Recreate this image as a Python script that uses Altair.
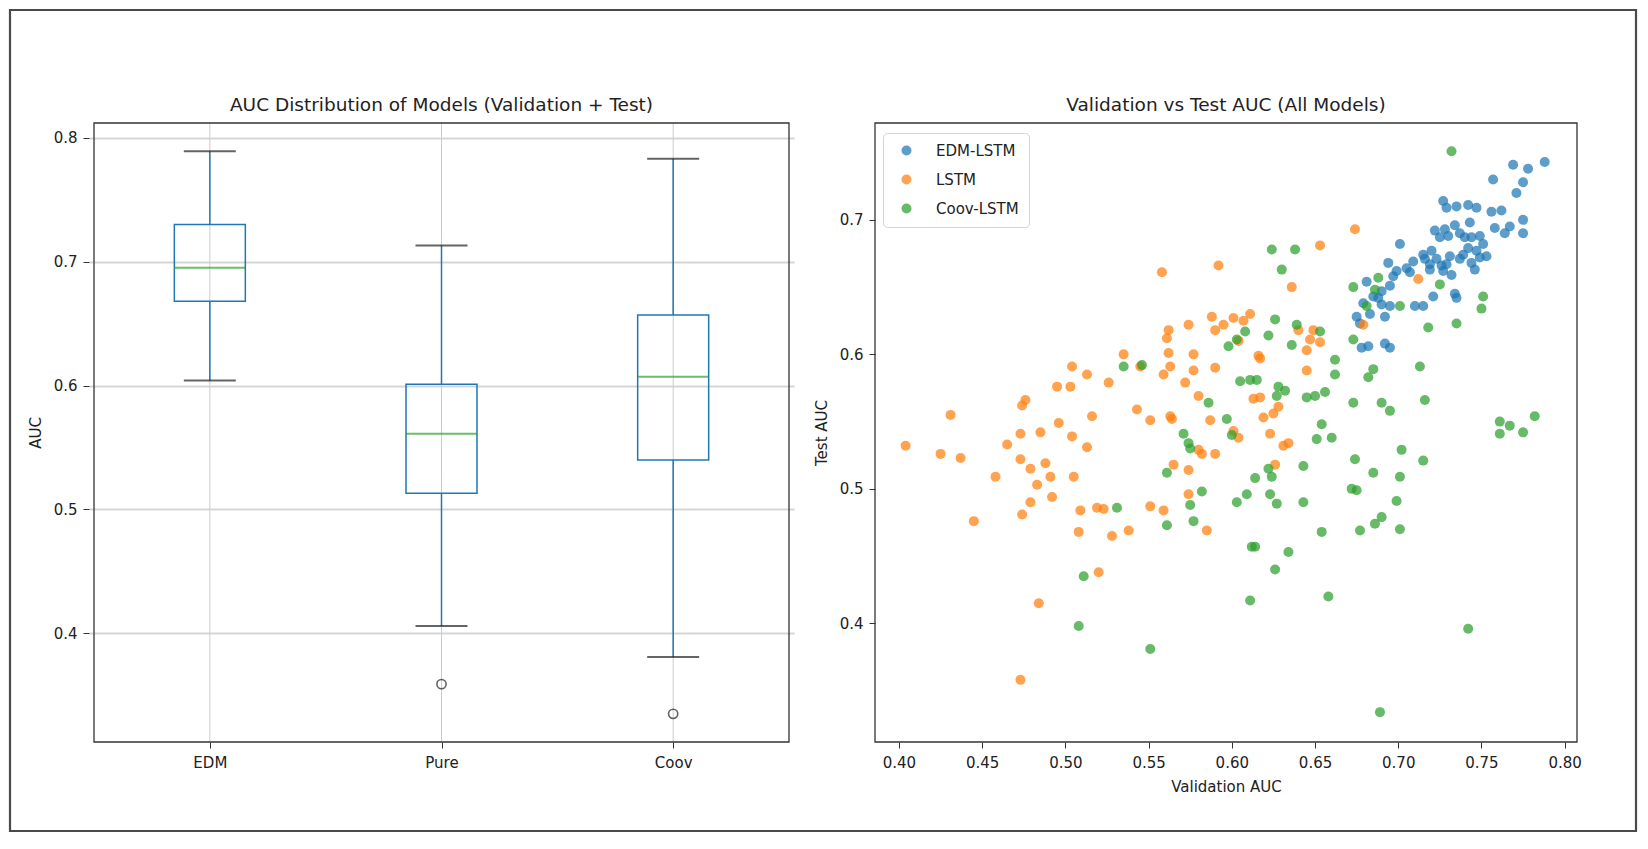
import altair as alt
import pandas as pd

# ---------------- Box plot summary ----------------
models = ["EDM", "Pure", "Coov"]
whisker_low = [0.604, 0.406, 0.381]
q1 = [0.668, 0.513, 0.540]
median = [0.695, 0.561, 0.607]
q3 = [0.730, 0.601, 0.657]
whisker_high = [0.789, 0.713, 0.783]
outlier_model = ["Pure", "Coov"]
outlier_value = [0.359, 0.335]
box_ylim = [0.3123, 0.8119]
box_yticks = [0.4, 0.5, 0.6, 0.7, 0.8]

# ---------------- Scatter values ----------------
edm_val = [0.788, 0.769, 0.778, 0.757, 0.775, 0.771, 0.727, 0.729, 0.735, 0.742,
           0.747, 0.756, 0.762, 0.775, 0.758, 0.764, 0.767, 0.775, 0.743, 0.722,
           0.728, 0.734, 0.737, 0.740, 0.744, 0.749, 0.751, 0.725, 0.730, 0.701,
           0.753, 0.747, 0.742, 0.737, 0.744, 0.746, 0.731, 0.729, 0.720, 0.716,
           0.723, 0.719, 0.727, 0.732, 0.709, 0.705, 0.694, 0.707, 0.697, 0.681,
           0.695, 0.690, 0.721, 0.734, 0.735, 0.685, 0.679, 0.690, 0.695, 0.710,
           0.715, 0.675, 0.677, 0.683, 0.692, 0.678, 0.682, 0.692, 0.695, 0.719,
           0.715, 0.726, 0.739, 0.749, 0.699, 0.688]
edm_test = [0.743, 0.741, 0.738, 0.730, 0.728, 0.720, 0.714, 0.709, 0.710, 0.711,
            0.709, 0.706, 0.707, 0.700, 0.694, 0.690, 0.695, 0.690, 0.698, 0.692,
            0.693, 0.696, 0.690, 0.687, 0.687, 0.688, 0.682, 0.687, 0.688, 0.682,
            0.673, 0.677, 0.679, 0.671, 0.668, 0.663, 0.673, 0.667, 0.677, 0.671,
            0.671, 0.667, 0.662, 0.659, 0.669, 0.664, 0.668, 0.661, 0.658, 0.654,
            0.651, 0.647, 0.643, 0.645, 0.642, 0.643, 0.638, 0.637, 0.636, 0.636,
            0.636, 0.628, 0.623, 0.630, 0.628, 0.605, 0.606, 0.608, 0.605, 0.663,
            0.674, 0.666, 0.674, 0.672, 0.662, 0.642]

lstm_val = [0.674, 0.653, 0.636, 0.712, 0.679, 0.611, 0.607, 0.604, 0.640, 0.649,
            0.647, 0.653, 0.645, 0.616, 0.617, 0.645, 0.613, 0.617, 0.628, 0.625,
            0.619, 0.623, 0.631, 0.634, 0.626, 0.604, 0.558, 0.592, 0.588, 0.601,
            0.574, 0.595, 0.590, 0.562, 0.561, 0.562, 0.577, 0.535, 0.563, 0.559,
            0.577, 0.590, 0.545, 0.504, 0.513, 0.526, 0.495, 0.503, 0.572, 0.580,
            0.476, 0.474, 0.431, 0.543, 0.551, 0.563, 0.564, 0.587, 0.601, 0.496,
            0.516, 0.485, 0.473, 0.504, 0.465, 0.513, 0.404, 0.425, 0.437, 0.473,
            0.488, 0.479, 0.491, 0.505, 0.458, 0.483, 0.580, 0.582, 0.590, 0.565,
            0.574, 0.479, 0.492, 0.474, 0.445, 0.509, 0.519, 0.523, 0.508, 0.528,
            0.538, 0.551, 0.559, 0.574, 0.585, 0.520, 0.484, 0.473]
lstm_test = [0.693, 0.681, 0.650, 0.656, 0.622, 0.630, 0.625, 0.610, 0.618, 0.618,
             0.611, 0.609, 0.603, 0.599, 0.597, 0.588, 0.567, 0.568, 0.561, 0.556,
             0.553, 0.541, 0.532, 0.534, 0.518, 0.538, 0.661, 0.666, 0.628, 0.627,
             0.622, 0.622, 0.618, 0.618, 0.612, 0.601, 0.600, 0.600, 0.591, 0.585,
             0.588, 0.590, 0.591, 0.591, 0.585, 0.579, 0.576, 0.576, 0.579, 0.569,
             0.566, 0.562, 0.555, 0.559, 0.551, 0.554, 0.552, 0.551, 0.543, 0.549,
             0.554, 0.542, 0.541, 0.539, 0.533, 0.531, 0.532, 0.526, 0.523, 0.522,
             0.519, 0.515, 0.509, 0.509, 0.509, 0.503, 0.529, 0.526, 0.526, 0.518,
             0.514, 0.490, 0.494, 0.481, 0.476, 0.484, 0.486, 0.485, 0.468, 0.465,
             0.469, 0.487, 0.484, 0.496, 0.469, 0.438, 0.415, 0.358]

coov_val = [0.732, 0.624, 0.638, 0.630, 0.673, 0.688, 0.686, 0.681, 0.701, 0.725,
            0.751, 0.750, 0.718, 0.735, 0.626, 0.639, 0.622, 0.636, 0.653, 0.608,
            0.603, 0.673, 0.662, 0.662, 0.685, 0.682, 0.713, 0.605, 0.611, 0.615,
            0.628, 0.632, 0.627, 0.645, 0.650, 0.656, 0.673, 0.690, 0.695, 0.716,
            0.654, 0.761, 0.767, 0.782, 0.651, 0.660, 0.761, 0.775, 0.702, 0.674,
            0.715, 0.643, 0.622, 0.624, 0.614, 0.685, 0.701, 0.609, 0.603, 0.623,
            0.627, 0.643, 0.672, 0.675, 0.699, 0.690, 0.686, 0.677, 0.701, 0.654,
            0.612, 0.614, 0.634, 0.626, 0.611, 0.658, 0.742, 0.689, 0.535, 0.546,
            0.598, 0.586, 0.597, 0.600, 0.571, 0.574, 0.575, 0.561, 0.531, 0.575,
            0.582, 0.561, 0.577, 0.511, 0.508, 0.551]
coov_test = [0.751, 0.678, 0.678, 0.663, 0.650, 0.657, 0.648, 0.636, 0.636, 0.652,
             0.643, 0.634, 0.620, 0.623, 0.626, 0.622, 0.614, 0.607, 0.617, 0.617,
             0.611, 0.611, 0.596, 0.585, 0.589, 0.583, 0.591, 0.580, 0.581, 0.581,
             0.576, 0.573, 0.569, 0.568, 0.569, 0.572, 0.564, 0.564, 0.558, 0.566,
             0.548, 0.550, 0.547, 0.554, 0.537, 0.538, 0.541, 0.542, 0.529, 0.522,
             0.521, 0.517, 0.515, 0.509, 0.508, 0.512, 0.509, 0.496, 0.490, 0.496,
             0.489, 0.490, 0.500, 0.499, 0.491, 0.479, 0.474, 0.469, 0.470, 0.468,
             0.457, 0.457, 0.453, 0.440, 0.417, 0.420, 0.396, 0.334, 0.591, 0.592,
             0.606, 0.564, 0.552, 0.540, 0.541, 0.534, 0.530, 0.512, 0.486, 0.488,
             0.498, 0.473, 0.476, 0.435, 0.398, 0.381]

series_names = ["EDM-LSTM", "LSTM", "Coov-LSTM"]
series_colors = ["#1f77b4", "#ff7f0e", "#2ca02c"]
sc_xlim = [0.3856, 0.8074]
sc_ylim = [0.3118, 0.772]
sc_xticks = [0.40, 0.45, 0.50, 0.55, 0.60, 0.65, 0.70, 0.75, 0.80]
sc_yticks = [0.4, 0.5, 0.6, 0.7]

titles = ["AUC Distribution of Models (Validation + Test)", "Validation vs Test AUC (All Models)"]

# ---------------- Layout (pixels inside the framed view) ----------------
W, H = 1626, 821
TOP, BOTTOM = 113, 732
L_X0, L_X1 = 79, 784
R_X0, R_X1 = 865, 1567
FONT = "DejaVu Sans"
TXT = "#222222"

# ---------------- Tables ----------------
box_df = pd.DataFrame({"model": models, "pos": list(range(1, len(models) + 1)),
                       "lo": whisker_low, "q1": q1, "med": median, "q3": q3, "hi": whisker_high})
box_df["ylo"] = box_ylim[0]
box_df["yhi"] = box_ylim[1]
out_df = pd.DataFrame({"model": outlier_model, "v": outlier_value})
out_df["pos"] = out_df["model"].map({m: i + 1 for i, m in enumerate(models)})
box_frame = pd.DataFrame({"x0": [0.5], "x1": [len(models) + 0.5], "y0": [box_ylim[0]], "y1": [box_ylim[1]]})

sc_df = pd.concat([
    pd.DataFrame({"model": series_names[0], "val": edm_val, "test": edm_test}),
    pd.DataFrame({"model": series_names[1], "val": lstm_val, "test": lstm_test}),
    pd.DataFrame({"model": series_names[2], "val": coov_val, "test": coov_test}),
], ignore_index=True)
sc_frame = pd.DataFrame({"x0": [sc_xlim[0]], "x1": [sc_xlim[1]], "y0": [sc_ylim[0]], "y1": [sc_ylim[1]]})

label_expr = "[" + ",".join(f"'{m}'" for m in models) + "][round(datum.value)-1]"

box_xscale = alt.Scale(domain=[0.5, len(models) + 0.5], range=[L_X0, L_X1], nice=False, zero=False)
box_yscale = alt.Scale(domain=box_ylim, range=[BOTTOM, TOP], nice=False, zero=False)
box_xaxis = alt.Axis(orient="bottom", offset=-(H - BOTTOM), values=list(range(1, len(models) + 1)),
                     labelExpr=label_expr, grid=False,
                     domain=False, tickColor="#333333", tickSize=6, labelPadding=7,
                     labelFontSize=15, labelColor=TXT, labelFont=FONT, title=None)
box_yaxis = alt.Axis(orient="left", offset=-L_X0, values=box_yticks, format=".1f", grid=True,
                     gridColor="#d6d6d6", gridWidth=2, domain=False, tickColor="#333333",
                     tickSize=6, labelPadding=6, labelFontSize=15, labelColor=TXT, labelFont=FONT,
                     title="AUC", titleFontSize=15, titleFontWeight="normal", titleColor=TXT,
                     titleFont=FONT, titlePadding=10)


def bx(field):
    return alt.X(f"{field}:Q", scale=box_xscale, axis=box_xaxis)


def by(field):
    return alt.Y(f"{field}:Q", scale=box_yscale, axis=box_yaxis)


BLUE = "#1f77b4"
vgrid = alt.Chart(box_df).mark_rule(color="#cccccc", strokeWidth=1).encode(x=bx("pos"), y=by("ylo"), y2="yhi")
whisk_up = alt.Chart(box_df).mark_rule(color=BLUE, strokeWidth=1.5).encode(x=bx("pos"), y=by("q3"), y2="hi")
whisk_dn = alt.Chart(box_df).mark_rule(color=BLUE, strokeWidth=1.5).encode(x=bx("pos"), y=by("lo"), y2="q1")
boxes = alt.Chart(box_df).mark_bar(size=71, fill="white", fillOpacity=0, stroke=BLUE, strokeWidth=1.5).encode(
    x=bx("pos"), y=by("q1"), y2="q3")
med_tick = alt.Chart(box_df).mark_tick(orient="horizontal", size=71, thickness=2, color="#2ca02c").encode(
    x=bx("pos"), y=by("med"))
cap_hi = alt.Chart(box_df).mark_tick(orient="horizontal", size=52, thickness=2, color="#222222").encode(
    x=bx("pos"), y=by("hi"))
cap_lo = alt.Chart(box_df).mark_tick(orient="horizontal", size=52, thickness=2, color="#222222").encode(
    x=bx("pos"), y=by("lo"))
outliers = alt.Chart(out_df).mark_point(shape="circle", filled=False, color="#222222", size=85,
                                        strokeWidth=1.6).encode(x=bx("pos"), y=by("v"))
box_border = alt.Chart(box_frame).mark_rect(fillOpacity=0, stroke="#333333", strokeWidth=1.3).encode(
    x=bx("x0"), x2="x1", y=by("y0"), y2="y1")

box_group = alt.layer(vgrid, whisk_up, whisk_dn, boxes, med_tick, cap_hi, cap_lo, outliers, box_border)

sc_xscale = alt.Scale(domain=sc_xlim, range=[R_X0, R_X1], nice=False, zero=False)
sc_yscale = alt.Scale(domain=sc_ylim, range=[BOTTOM, TOP], nice=False, zero=False)
sc_xaxis = alt.Axis(orient="bottom", offset=-(H - BOTTOM), values=sc_xticks, format=".2f", grid=False,
                    domain=False, tickColor="#333333", tickSize=6, labelPadding=7, labelFontSize=15,
                    labelColor=TXT, labelFont=FONT, title="Validation AUC", titleFontSize=15,
                    titleFontWeight="normal", titleColor=TXT, titleFont=FONT, titlePadding=9)
sc_yaxis = alt.Axis(orient="left", offset=-R_X0, values=sc_yticks, format=".1f", grid=False,
                    domain=False, tickColor="#333333", tickSize=6, labelPadding=6, labelFontSize=15,
                    labelColor=TXT, labelFont=FONT, title="Test AUC", titleFontSize=15,
                    titleFontWeight="normal", titleColor=TXT, titleFont=FONT, titlePadding=10)

points = alt.Chart(sc_df).mark_circle(size=100, opacity=0.72).encode(
    x=alt.X("val:Q", scale=sc_xscale, axis=sc_xaxis),
    y=alt.Y("test:Q", scale=sc_yscale, axis=sc_yaxis),
    color=alt.Color("model:N", sort=series_names,
                    scale=alt.Scale(domain=series_names, range=series_colors),
                    legend=alt.Legend(orient="none", legendX=873, legendY=123, title=None,
                                      symbolType="circle", symbolSize=100, symbolOpacity=0.72,
                                      symbolStrokeWidth=0, labelFontSize=15, labelColor=TXT,
                                      labelFont=FONT, padding=10, rowPadding=13,
                                      strokeColor="#d4d4d4", fillColor="white", cornerRadius=4,
                                      symbolOffset=6, labelOffset=22)),
)
sc_border = alt.Chart(sc_frame).mark_rect(fillOpacity=0, stroke="#333333", strokeWidth=1.3).encode(
    x=alt.X("x0:Q", scale=sc_xscale, axis=sc_xaxis), x2="x1",
    y=alt.Y("y0:Q", scale=sc_yscale, axis=sc_yaxis), y2="y1")

sc_group = alt.layer(points, sc_border)

title_left = alt.Chart(pd.DataFrame({"t": [titles[0]]})).mark_text(
    fontSize=18.5, font=FONT, color=TXT, align="center", baseline="middle").encode(
    text="t:N", x=alt.value((L_X0 + L_X1) / 2), y=alt.value(95))
title_right = alt.Chart(pd.DataFrame({"t": [titles[1]]})).mark_text(
    fontSize=18.5, font=FONT, color=TXT, align="center", baseline="middle").encode(
    text="t:N", x=alt.value((R_X0 + R_X1) / 2), y=alt.value(95))

chart = alt.layer(box_group, sc_group, title_left, title_right).resolve_scale(
    x="independent", y="independent"
).properties(
    width=W, height=H,
    autosize=alt.AutoSizeParams(type="none"),
    padding={"left": 2, "top": 2, "right": 2, "bottom": 2},
    view=alt.ViewBackground(stroke="#4a4a4a", strokeWidth=2.2, fill="white"),
).configure_view(stroke="#4a4a4a", strokeWidth=2.2, fill="white").configure(font=FONT)

chart.save("out.html", embed_options={"renderer": "svg", "actions": False})
